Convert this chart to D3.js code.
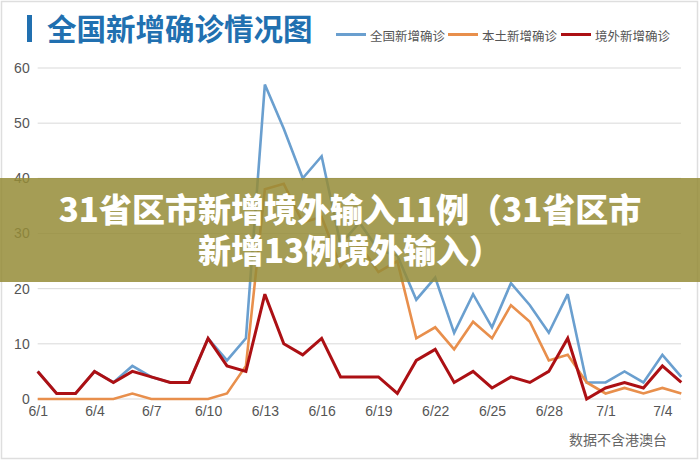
<!DOCTYPE html>
<html>
<head>
<meta charset="utf-8">
<script src="https://cdn.jsdelivr.net/npm/d3@7/dist/d3.min.js"></script>
<style>
  html, body { margin: 0; padding: 0; background: #fff; }
  svg { display: block; }
</style>
</head>
<body>
<svg id="chart" width="700" height="461"></svg>
<script>
// ---- data ----
const categories = ["6/1","6/2","6/3","6/4","6/5","6/6","6/7","6/8","6/9","6/10",
  "6/11","6/12","6/13","6/14","6/15","6/16","6/17","6/18","6/19","6/20",
  "6/21","6/22","6/23","6/24","6/25","6/26","6/27","6/28","6/29","6/30",
  "7/1","7/2","7/3","7/4","7/5"];
const totalCases =    [5,1,1,5,3,6,4,3,3,11, 7,11,57,49,40,44,28,32,27,26, 18,22,12,19,13,21,17,12,19,3, 3,5,3,8,4];
const localCases =    [0,0,0,0,0,1,0,0,0,0,  1,6,38,39,32,33,24,28,23,25, 11,13,9,14,11,17,14,7,8,3,  1,2,1,2,1];
const importedCases = [5,1,1,5,3,5,4,3,3,11, 6,5,19,10,8,11,4,4,4,1,    7,9,3,5,2,4,3,5,11,0,   2,3,2,6,3];
const seriesNames = ["全国新增确诊","本土新增确诊","境外新增确诊"];
const xTickLabels = ["6/1","6/4","6/7","6/10","6/13","6/16","6/19","6/22","6/25","6/28","7/1","7/4"];
const yTicks = [0,10,20,30,40,50,60];
const titleText = "全国新增确诊情况图";
const bannerLines = ["31省区市新增境外输入11例（31省区市","新增13例境外输入）"];
const sourceText = "数据不含港澳台";

// ---- styles ----
const colors = ["#6a9fcf", "#e88f4c", "#ac1014"];
const widths = [2.6, 2.6, 3];
const cjk = "'Noto Sans CJK SC', 'Noto Sans', sans-serif";
const latin = "'Liberation Sans', Arial, sans-serif";

const svg = d3.select("#chart");

// frame
svg.append("rect").attr("x", 1.5).attr("y", 1.5).attr("width", 696).attr("height", 457)
  .attr("fill", "#fff").attr("stroke", "#dedede").attr("stroke-width", 1.5);

// title
svg.append("rect").attr("x", 27).attr("y", 15).attr("width", 5).attr("height", 27).attr("fill", "#2170b0");
svg.append("text").attr("x", 47).attr("y", 40)
  .attr("font-family", cjk).attr("font-weight", 700).attr("font-size", 29.5)
  .attr("fill", "#2170b0").text(titleText);

// legend
const legendX = [336, 448, 561];
seriesNames.forEach((n, i) => {
  svg.append("line").attr("x1", legendX[i]).attr("x2", legendX[i] + 30)
    .attr("y1", 34.5).attr("y2", 34.5).attr("stroke", colors[i]).attr("stroke-width", 3);
  svg.append("text").attr("x", legendX[i] + 34).attr("y", 35)
    .attr("dominant-baseline", "central")
    .attr("font-family", cjk).attr("font-size", 12.5).attr("fill", "#555").text(n);
});

// scales
const x = d3.scalePoint().domain(categories).range([37.7, 681.3]);
const y = d3.scaleLinear().domain([0, 60]).range([399, 68]);

// grid
svg.append("g").selectAll("line").data(yTicks).join("line")
  .attr("x1", 37.7).attr("x2", 681).attr("y1", d => y(d)).attr("y2", d => y(d))
  .attr("stroke", "#d9d9d9").attr("stroke-width", 1);

// y axis
const yAxis = svg.append("g").attr("transform", "translate(37.7,0)")
  .call(d3.axisLeft(y).tickValues(yTicks).tickSize(0).tickPadding(8));
yAxis.select(".domain").remove();
yAxis.selectAll("text").attr("font-family", latin).attr("font-size", 14).attr("fill", "#555");

// x axis
const xAxis = svg.append("g").attr("transform", "translate(0,399)")
  .call(d3.axisBottom(x).tickValues(xTickLabels).tickSize(0).tickPadding(7));
xAxis.select(".domain").remove();
xAxis.selectAll("text").attr("font-family", latin).attr("font-size", 14).attr("fill", "#555");

// lines
const series = [totalCases, localCases, importedCases];
const line = d3.line().x((d, i) => x(categories[i])).y(d => y(d));
series.forEach((s, i) => {
  svg.append("path").datum(s).attr("d", line)
    .attr("fill", "none").attr("stroke", colors[i]).attr("stroke-width", widths[i])
    .attr("stroke-linejoin", "miter").attr("stroke-miterlimit", 3);
});

// source
svg.append("text").attr("x", 667).attr("y", 445).attr("text-anchor", "end")
  .attr("font-family", cjk).attr("font-size", 14).attr("fill", "#666").text(sourceText);

// banner overlay
svg.append("rect").attr("x", 0).attr("y", 178).attr("width", 700).attr("height", 104)
  .attr("fill", "rgb(149,140,55)").attr("fill-opacity", 0.85);
const bannerY = [222, 263];
bannerLines.forEach((t, i) => {
  svg.append("text").attr("x", 350).attr("y", bannerY[i]).attr("text-anchor", "middle")
    .attr("font-family", cjk).attr("font-weight", 900).attr("font-size", 33)
    .attr("fill", "#fff").text(t);
});
</script>
</body>
</html>
